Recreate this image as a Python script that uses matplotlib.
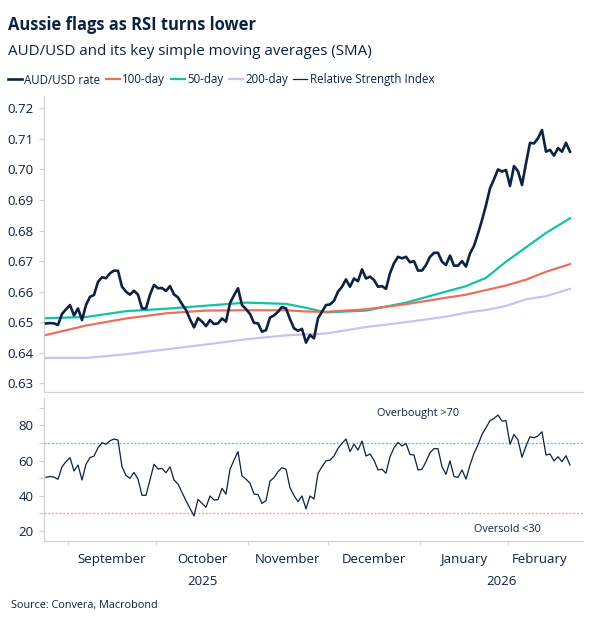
import matplotlib
matplotlib.use("Agg")
import matplotlib.pyplot as plt
import numpy as np
import pandas as pd

# ---------------- data ----------------
dates = pd.bdate_range("2025-08-22", periods=132)

aud_usd = [
    0.6496, 0.6497, 0.6496, 0.6491, 0.6527, 0.6542, 0.6556, 0.6522, 0.6545, 0.6507,
    0.6556, 0.6583, 0.6589, 0.6632, 0.6647, 0.6644, 0.6660, 0.6669, 0.6668, 0.6616,
    0.6600, 0.6590, 0.6603, 0.6590, 0.6545, 0.6545, 0.6590, 0.6622, 0.6611, 0.6612,
    0.6602, 0.6618, 0.6591, 0.6581, 0.6559, 0.6540, 0.6510, 0.6483, 0.6513, 0.6502,
    0.6487, 0.6507, 0.6494, 0.6496, 0.6512, 0.6502, 0.6562, 0.6588, 0.6611, 0.6556,
    0.6543, 0.6527, 0.6498, 0.6496, 0.6469, 0.6474, 0.6515, 0.6522, 0.6534, 0.6550,
    0.6545, 0.6510, 0.6480, 0.6472, 0.6478, 0.6433, 0.6458, 0.6447, 0.6513, 0.6534,
    0.6556, 0.6558, 0.6570, 0.6600, 0.6616, 0.6640, 0.6616, 0.6643, 0.6634, 0.6673,
    0.6643, 0.6649, 0.6638, 0.6616, 0.6618, 0.6609, 0.6660, 0.6693, 0.6714, 0.6709,
    0.6714, 0.6696, 0.6700, 0.6669, 0.6669, 0.6687, 0.6714, 0.6727, 0.6727, 0.6698,
    0.6687, 0.6718, 0.6685, 0.6685, 0.6700, 0.6682, 0.6725, 0.6750, 0.6790, 0.6834,
    0.6883, 0.6938, 0.6968, 0.7000, 0.6993, 0.6998, 0.6946, 0.7011, 0.6994, 0.6949,
    0.7020, 0.7087, 0.7085, 0.7102, 0.7129, 0.7058, 0.7064, 0.7045, 0.7070, 0.7058,
    0.7087, 0.7058,
]

rsi = [
    50.5, 51.0, 50.6, 49.4, 56.5, 59.4, 61.7, 54.1, 57.5, 49.0,
    57.9, 61.7, 62.6, 67.3, 70.2, 69.3, 71.3, 72.3, 71.7, 56.5,
    51.6, 49.9, 53.3, 49.5, 40.3, 40.3, 49.0, 57.9, 55.2, 55.6,
    53.1, 56.5, 49.0, 46.7, 42.0, 37.2, 32.9, 28.5, 38.0, 35.7,
    33.5, 39.9, 37.6, 37.8, 44.3, 40.9, 55.0, 60.3, 65.1, 51.3,
    49.5, 47.1, 41.0, 40.7, 35.7, 37.2, 48.4, 50.3, 53.7, 56.0,
    55.1, 44.6, 40.1, 36.7, 39.9, 32.5, 39.9, 38.2, 52.8, 56.5,
    59.9, 60.3, 62.6, 67.0, 69.8, 72.3, 65.1, 69.3, 66.0, 71.1,
    62.6, 63.8, 60.3, 54.7, 55.1, 52.8, 62.2, 67.3, 70.4, 68.3,
    69.8, 63.5, 63.2, 54.7, 55.1, 59.4, 64.5, 66.8, 66.8, 56.5,
    52.2, 59.9, 50.9, 50.5, 54.7, 49.5, 57.5, 64.1, 68.9, 74.9,
    78.7, 82.7, 84.0, 85.9, 82.5, 82.7, 69.3, 74.9, 71.7, 61.9,
    68.3, 73.6, 73.0, 74.1, 76.4, 63.2, 63.8, 59.8, 62.2, 59.4,
    62.8, 57.5,
]

sma_dates = ["2025-08-22", "2025-09-05", "2025-09-19", "2025-10-03", "2025-10-17",
             "2025-10-31", "2025-11-14", "2025-11-21", "2025-11-28", "2025-12-12",
             "2025-12-26", "2026-01-09", "2026-01-16", "2026-01-23", "2026-01-30",
             "2026-02-06", "2026-02-13", "2026-02-23"]
sma50 = [0.6513, 0.6517, 0.6536, 0.6544, 0.6554, 0.6564, 0.6560, 0.6547, 0.6532,
         0.6538, 0.6564, 0.6600, 0.6618, 0.6645, 0.6698, 0.6745, 0.6792, 0.6840]
sma100 = [0.6458, 0.6489, 0.6512, 0.6529, 0.6538, 0.6539, 0.6539, 0.6535, 0.6534,
          0.6542, 0.6559, 0.6580, 0.6590, 0.6605, 0.6620, 0.6639, 0.6665, 0.6690]
sma200 = [0.6383, 0.6383, 0.6395, 0.6411, 0.6427, 0.6444, 0.6457, 0.6460, 0.6463,
          0.6484, 0.6500, 0.6518, 0.6531, 0.6540, 0.6553, 0.6575, 0.6585, 0.6609]

month_names = ["September", "October", "November", "December", "January", "February"]
year_labels = ["2025", "2026"]
top_ticks = [0.63, 0.64, 0.65, 0.66, 0.67, 0.68, 0.69, 0.70, 0.71, 0.72]
rsi_ticks = [20, 40, 60, 80]
rsi_minor = [30, 50, 70, 90]
overbought, oversold = 70, 30

# ---------------- style ----------------
navy = "#0d2240"
teal = "#13c2a5"
salmon = "#e8705f"
lavender = "#cbc0f6"
grey = "#d2d2d2"
FONT = ["Open Sans", "DejaVu Sans"]
plt.rcParams["font.family"] = FONT

W, H = 599, 623
fig = plt.figure(figsize=(W / 100, H / 100), dpi=100)
ax1 = fig.add_axes([44 / W, 1 - 392 / H, (583 - 44) / W, (392 - 97) / H])
ax2 = fig.add_axes([44 / W, 1 - 541 / H, (583 - 44) / W, (541 - 398) / H])

x = np.arange(len(dates))
sma_x = dates.get_indexer(pd.to_datetime(sma_dates))

l200, = ax1.plot(sma_x, sma200, color=lavender, lw=1.6, label="200-day", zorder=2)
l50, = ax1.plot(sma_x, sma50, color=teal, lw=1.6, label="50-day", zorder=3)
l100, = ax1.plot(sma_x, sma100, color=salmon, lw=1.6, label="100-day", zorder=3)
laud, = ax1.plot(x, aud_usd, color=navy, lw=1.9, label="AUD/USD rate", zorder=5)
lrsi, = ax2.plot(x, rsi, color=navy, lw=0.9, label="Relative Strength Index", zorder=5)

ax2.axhline(overbought, color="#5ccfbd", lw=1.0, ls=(0, (1.5, 1.2)), zorder=2)
ax2.axhline(oversold, color="#f3a498", lw=1.0, ls=(0, (1.5, 1.2)), zorder=2)

xlim = (-0.5, 134.25)
for ax in (ax1, ax2):
    ax.set_xlim(*xlim)
    for s in ("top", "right"):
        ax.spines[s].set_visible(False)
    for s in ("left", "bottom"):
        ax.spines[s].set_color(grey)
        ax.spines[s].set_linewidth(0.9)
    ax.tick_params(axis="y", colors=grey, labelcolor=navy, labelsize=9.5,
                   length=3.6, width=0.9, pad=4)

ax1.set_ylim(0.62715, 0.7237)
ax1.set_yticks(top_ticks)
ax1.set_yticklabels([f"{t:.2f}" for t in top_ticks])
ax1.set_xticks([])

ax2.set_ylim(14.3, 95.6)
ax2.set_yticks(rsi_ticks)
ax2.set_yticks(rsi_minor, minor=True)
ax2.tick_params(axis="y", which="minor", colors=grey, length=3.6, width=0.9)

# month boundaries and centres
months = dates.to_period("M")
uniq = months.unique()
bounds, centres = [], []
for m in uniq[1:]:
    idx = np.where(months == m)[0]
    bounds.append(idx[0] - 0.5)
    centres.append((idx[0] + idx[-1]) / 2)
ax2.set_xticks(bounds)
ax2.set_xticklabels([])
ax2.tick_params(axis="x", colors=grey, length=3, width=0.9)

xt = ax2.get_xaxis_transform()
for c, name in zip(centres, month_names):
    ax2.annotate(name, xy=(c, 0), xycoords=xt, xytext=(0, -15.8), textcoords="offset points",
                 ha="center", va="baseline", fontsize=9.5, color=navy)
oct_centre = centres[1]
jan_start = bounds[4]
ax2.annotate(year_labels[0], xy=(oct_centre, 0), xycoords=xt, xytext=(0, -31.7),
             textcoords="offset points", ha="center", va="baseline", fontsize=9.5, color=navy)
ax2.annotate(year_labels[1], xy=((jan_start + xlim[1]) / 2, 0), xycoords=xt, xytext=(0, -31.7),
             textcoords="offset points", ha="center", va="baseline", fontsize=9.5, color=navy)

ax2.text(82.75, 85.3, "Overbought >70", fontsize=7.8, color=navy, ha="left", va="baseline")
ax2.text(123.75, 19.6, "Oversold <30", fontsize=7.8, color=navy, ha="right", va="baseline")

# titles
fig.text(8 / W, 1 - 29.5 / H, "Aussie flags as RSI turns lower", fontsize=11.9,
         fontweight="bold", color=navy, ha="left", va="baseline")
fig.text(8 / W, 1 - 55 / H, "AUD/USD and its key simple moving averages (SMA)", fontsize=10.9,
         color=navy, ha="left", va="baseline")
fig.text(11 / W, 1 - 608 / H, "Source: Convera, Macrobond", fontsize=7.8, color=navy,
         ha="left", va="baseline")

leg = fig.legend(handles=[laud, l100, l50, l200, lrsi], loc="center left",
                 bbox_to_anchor=(8 / W, 1 - 80 / H), ncol=5, frameon=False,
                 fontsize=8.3, handlelength=1.2, handletextpad=0.2, columnspacing=0.5,
                 borderpad=0, borderaxespad=0)
for t in leg.get_texts():
    t.set_color(navy)

fig.savefig("out.png", dpi=100)
